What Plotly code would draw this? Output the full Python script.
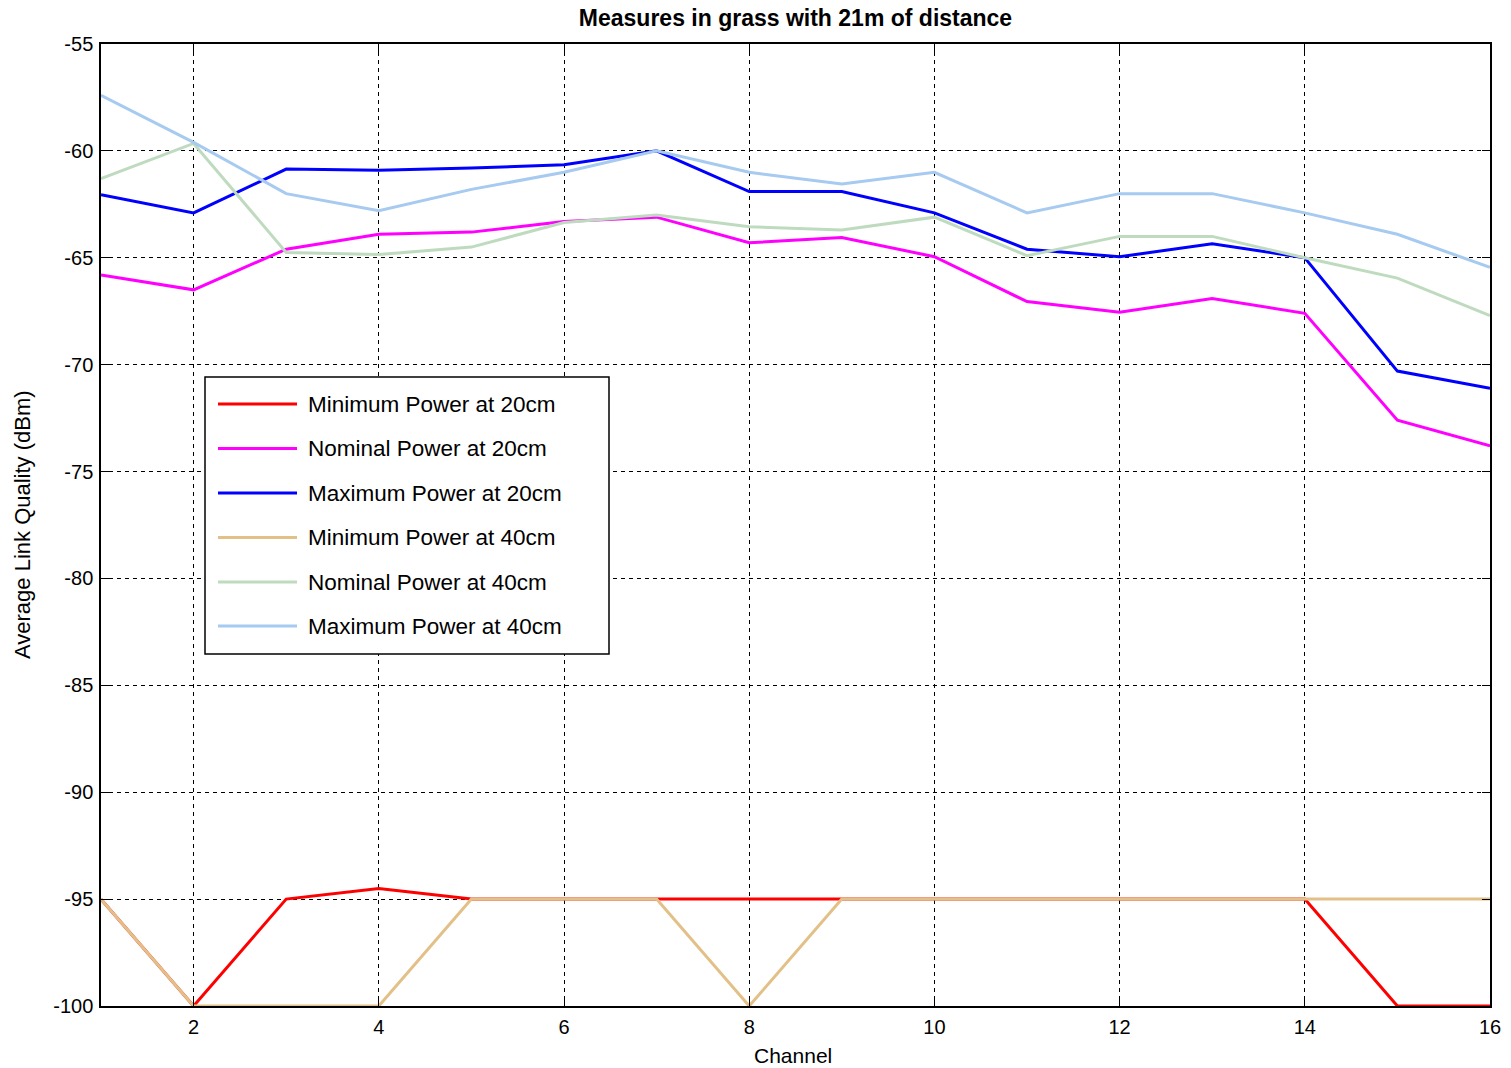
import plotly.graph_objects as go

# Channels measured
channels = list(range(1, 17))

# Average link quality (dBm) per channel
min_power_20cm = [-95, -100, -95, -94.5, -95, -95, -95, -95, -95, -95, -95, -95, -95, -95, -100, -100]
nominal_power_20cm = [-65.8, -66.5, -64.6, -63.9, -63.8, -63.3, -63.1, -64.3, -64.05, -64.95, -67.05, -67.55, -66.9, -67.6, -72.6, -73.8]
maximum_power_20cm = [-62.05, -62.9, -60.85, -60.9, -60.8, -60.65, -60.0, -61.9, -61.9, -62.9, -64.6, -64.95, -64.35, -65.0, -70.3, -71.1]
min_power_40cm = [-95, -100, -100, -100, -95, -95, -95, -100, -95, -95, -95, -95, -95, -95, -95, -95]
nominal_power_40cm = [-61.3, -59.65, -64.75, -64.85, -64.5, -63.35, -63.0, -63.55, -63.7, -63.1, -64.9, -64.0, -64.0, -65.0, -65.95, -67.7]
maximum_power_40cm = [-57.4, -59.6, -62.0, -62.8, -61.8, -61.0, -60.0, -61.0, -61.55, -61.0, -62.9, -62.0, -62.0, -62.9, -63.9, -65.45]

series_names = [
    "Minimum Power at 20cm",
    "Nominal Power at 20cm",
    "Maximum Power at 20cm",
    "Minimum Power at 40cm",
    "Nominal Power at 40cm",
    "Maximum Power at 40cm",
]
series_values = [min_power_20cm, nominal_power_20cm, maximum_power_20cm,
                 min_power_40cm, nominal_power_40cm, maximum_power_40cm]
series_colors = ["#FF0000", "#FF00FF", "#0000FF", "#E2C088", "#BFDBBF", "#A6CAF0"]

x_ticks = [2, 4, 6, 8, 10, 12, 14, 16]
y_ticks = [-55, -60, -65, -70, -75, -80, -85, -90, -95, -100]
y_tick_labels = [str(v) for v in y_ticks]  # plain hyphen-minus

W, H = 1511, 1068
L, R, T, B = 101, 21, 44, 62
PW, PH = W - L - R, H - T - B

fig = go.Figure()
for name, vals, col in zip(series_names, series_values, series_colors):
    fig.add_trace(go.Scatter(x=channels, y=vals, mode="lines", name=name,
                             line=dict(color=col, width=3), showlegend=False))

FONT = "Liberation Sans, Arial, sans-serif"

axis_common = dict(
    showline=True, linecolor="black", linewidth=1.5, mirror="ticks",
    ticks="inside", ticklen=8, tickcolor="black", tickwidth=1,
    showgrid=True, gridcolor="black", gridwidth=1, griddash="4px,4px",
    zeroline=False, automargin=False,
    tickfont=dict(family=FONT, size=20, color="black"),
)

fig.update_layout(
    width=W, height=H,
    margin=dict(l=L, r=R, t=T, b=B),
    paper_bgcolor="white", plot_bgcolor="white",
    title=dict(text="<b>Measures in grass with 21m of distance</b>",
               x=(L + PW / 2) / W, xanchor="center", y=1 - 18 / H, yanchor="middle",
               font=dict(family=FONT, size=23, color="black")),
    xaxis=dict(range=[1, 16], tickvals=x_ticks, ticklabelstandoff=2, **axis_common),
    yaxis=dict(range=[-100, -55], tickvals=y_ticks, ticktext=y_tick_labels,
               ticklabelstandoff=2, **axis_common),
    showlegend=False,
)


def px_x(px):
    return (px - L) / PW


def px_y(py):
    return (H - B - py) / PH


# Axis titles
fig.add_annotation(xref="paper", yref="paper", x=px_x(793), y=px_y(1055),
                   text="Channel", showarrow=False, xanchor="center", yanchor="middle",
                   font=dict(family=FONT, size=21, color="black"))
fig.add_annotation(xref="paper", yref="paper", x=px_x(22), y=px_y(525),
                   text="Average Link Quality (dBm)", showarrow=False, textangle=-90,
                   xanchor="center", yanchor="middle",
                   font=dict(family=FONT, size=22, color="black"))

# Legend box
fig.add_shape(type="rect", xref="paper", yref="paper",
              x0=px_x(205), x1=px_x(609), y0=px_y(654), y1=px_y(377),
              line=dict(color="black", width=1.5), fillcolor="white", layer="above")

item_y = [404, 448.5, 493, 537.5, 582, 626]
for name, col, py in zip(series_names, series_colors, item_y):
    fig.add_shape(type="line", xref="paper", yref="paper",
                  x0=px_x(218), x1=px_x(297), y0=px_y(py), y1=px_y(py),
                  line=dict(color=col, width=3), layer="above")
    fig.add_annotation(xref="paper", yref="paper", x=px_x(306), y=px_y(py),
                       text=name, showarrow=False, xanchor="left", yanchor="middle",
                       font=dict(family=FONT, size=22.5, color="black"))

fig.write_html("out.html")
